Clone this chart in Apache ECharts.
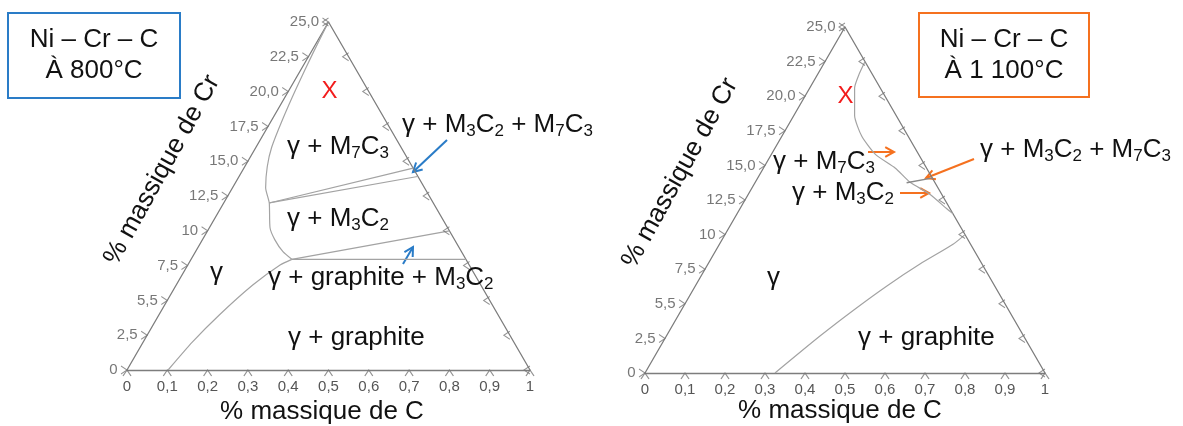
<!DOCTYPE html>
<html><head><meta charset="utf-8">
<script src="https://cdn.jsdelivr.net/npm/echarts@6/dist/echarts.min.js"></script>
<style>html,body{margin:0;padding:0;background:#fff}#c{width:1183px;height:426px}</style>
</head><body><div id="c"></div>
<script>
// ---------- DATA (points are [C wt%, Cr wt%]) ----------
const crMax = 25;
const cTicks = [0, 0.1, 0.2, 0.3, 0.4, 0.5, 0.6, 0.7, 0.8, 0.9, 1];
const crTicks = [0, 2.5, 5, 7.5, 10, 12.5, 15, 17.5, 20, 22.5, 25];
const crTickLabels = ['0', '2,5', '5,5', '7,5', '10', '12,5', '15,0', '17,5', '20,0', '22,5', '25,0'];
const triangle = [[0, 0], [0, 25], [1, 0]];

// 800 °C
const gammaLimit800 = [[0, 25], [0.006, 22.8], [0.015, 20.3], [0.026, 18.0], [0.039, 16.0], [0.056, 14.6], [0.082, 13.1], [0.113, 12.0], [0.151, 10.2], [0.180, 9.35], [0.217, 8.5], [0.25, 7.95]];
const graphiteLimit800 = [[0.25, 7.95], [0.229, 7.54], [0.19, 6.1], [0.15, 3.95], [0.122, 2.0], [0.102, 0]];
const tieM7C3_800 = [[0.113, 12.0], [0.42, 14.5]];
const tieM3C2a_800 = [[0.113, 12.0], [0.443, 13.9]];
const tieM3C2b_800 = [[0.25, 7.95], [0.60, 10.0]];
const tieGraphite_800 = [[0.25, 7.95], [0.682, 7.95]];

// 1 100 °C
const carbideLimit1100 = [[0.10, 22.5], [0.104, 21.5], [0.112, 20.6], [0.126, 19.9], [0.152, 18.6], [0.20, 17.1], [0.26, 15.8], [0.33, 14.8], [0.386, 13.8], [0.455, 12.9], [0.515, 11.9], [0.54, 11.5]];
const tie1100 = [[0.379, 13.75], [0.438, 14.1]];
const graphiteLimit1100 = [[0.325, 0], [0.384, 2.67], [0.43, 4.52], [0.479, 6.29], [0.53, 7.87], [0.584, 9.3], [0.60, 10.0]];

// ---------- helpers ----------
const F = '"Liberation Sans", Arial, sans-serif';
const P = ([c, cr]) => [c + cr / (2 * crMax), cr];  // ternary -> grid coords

const EDGE = '#7d7d7d', BND = '#a3a3a3';
function line(data, g, color, width, smooth) {
  return { type: 'line', xAxisIndex: g, yAxisIndex: g, data: data.map(P), symbol: 'none', showSymbol: false,
    smooth: smooth || 0, silent: true, animation: false, z: 3,
    lineStyle: { color: color, width: width } };
}
const CHEV_UP = 'path://M0,6L4,0L8,6';
const CHEV_R = 'path://M0,0L6,4L0,8';
const CHEV_L = 'path://M6,0L0,4L6,8';
function ticks(points, g, symbol, size, offset, label) {
  const s = { type: 'scatter', xAxisIndex: g, yAxisIndex: g, data: points.map(P), symbol: symbol,
    symbolSize: size, symbolOffset: offset, silent: true, animation: false, z: 4,
    itemStyle: { color: 'rgba(0,0,0,0)', borderColor: '#777', borderWidth: 1 } };
  if (label) s.label = label;
  return s;
}
const leftLabel = { show: true, position: 'left', distance: 3, color: '#555', fontSize: 15, fontFamily: F,
  formatter: p => crTickLabels[p.dataIndex] };

function axes(g) {
  return {
    x: { type: 'value', gridIndex: g, min: 0, max: 1, interval: 0.1,
      axisLine: { show: true, lineStyle: { color: EDGE, width: 1.3 } },
      axisTick: { show: false }, splitLine: { show: false },
      axisLabel: { color: '#555', fontSize: 15, fontFamily: F, margin: 9,
        formatter: v => String(+v.toFixed(1)).replace('.', ',') } },
    y: { type: 'value', gridIndex: g, min: 0, max: crMax, show: false, splitLine: { show: false } }
  };
}
function diagramSeries(g) {
  return [
    line(triangle, g, EDGE, 1.3),
    ticks(cTicks.map(c => [c, 0]), g, CHEV_UP, [8, 6], [0, 3]),
    ticks(crTicks.map(cr => [0, cr]), g, CHEV_R, [6, 8], [-3, 0], leftLabel),
    ticks(crTicks.map(cr => [1 - cr / crMax, cr]), g, CHEV_L, [6, 8], [-3, 0])
  ];
}

const RICH = {
  n: { fontSize: 26, fontFamily: F, fill: '#111', lineHeight: 32 },
  s: { fontSize: 17, fontFamily: F, fill: '#111', lineHeight: 17, padding: [12, 0, 0, 0] }
};
function txt(x, y, text, extra) {
  return Object.assign({ type: 'text', x: x, y: y, z: 100,
    style: Object.assign({ text: text, rich: RICH, fill: '#111', fontSize: 26, fontFamily: F,
      align: 'left', verticalAlign: 'middle' }, extra || {}) });
}
function plain(x, y, text, extra, rot) {
  return { type: 'text', x: x, y: y, z: 100, rotation: rot || 0,
    style: Object.assign({ text: text, fill: '#111', fontSize: 26, fontFamily: F, align: 'center', verticalAlign: 'middle' }, extra || {}) };
}
function arrow(x1, y1, x2, y2, color) {
  const a = Math.atan2(y2 - y1, x2 - x1), L = 10, w = 0.5;
  const p1 = [x2 - L * Math.cos(a - w), y2 - L * Math.sin(a - w)];
  const p2 = [x2 - L * Math.cos(a + w), y2 - L * Math.sin(a + w)];
  return { type: 'group', z: 100, children: [
    { type: 'line', shape: { x1: x1, y1: y1, x2: x2, y2: y2 }, style: { stroke: color, lineWidth: 2 } },
    { type: 'polyline', shape: { points: [p1, [x2, y2], p2] }, style: { stroke: color, lineWidth: 2, fill: null } }
  ] };
}
function box(x, y, w, h, color, l1, l2) {
  return [
    { type: 'rect', z: 99, shape: { x: x, y: y, width: w, height: h }, style: { fill: '#fff', stroke: color, lineWidth: 2 } },
    plain(x + w / 2, y + 27, l1),
    plain(x + w / 2, y + 58, l2)
  ];
}

const BLUE = '#2a7cc7', ORANGE = '#f5711f';
const a0 = axes(0), a1 = axes(1);
const option = {
  backgroundColor: '#fff',
  animation: false,
  grid: [
    { left: 127, top: 22, width: 403, height: 348 },
    { left: 645, top: 27, width: 400, height: 346 }
  ],
  xAxis: [a0.x, a1.x],
  yAxis: [a0.y, a1.y],
  series: [].concat(
    diagramSeries(0),
    [
      line(gammaLimit800, 0, BND, 1.2, 0.2),
      line(graphiteLimit800, 0, BND, 1.2, 0.2),
      line(tieM7C3_800, 0, BND, 1.2),
      line(tieM3C2a_800, 0, BND, 1.2),
      line(tieM3C2b_800, 0, BND, 1.2),
      line(tieGraphite_800, 0, BND, 1.2)
    ],
    diagramSeries(1),
    [
      line(carbideLimit1100, 1, BND, 1.2, 0.2),
      line(tie1100, 1, '#888', 1.4),
      line(graphiteLimit1100, 1, BND, 1.2, 0.25)
    ]
  ),
  graphic: [].concat(
    box(8, 13, 172, 85, BLUE, 'Ni – Cr – C', 'À 800°C'),
    box(919, 13, 170, 84, ORANGE, 'Ni – Cr – C', 'À 1 100°C'),
    [
      // 800 °C
      plain(329.5, 91.5, 'X', { fill: '#f21c1c', fontSize: 24 }),
      txt(287, 147, '{n|γ + M}{s|7}{n|C}{s|3}'),
      txt(402, 125, '{n|γ + M}{s|3}{n|C}{s|2}{n| + M}{s|7}{n|C}{s|3}'),
      txt(287, 219, '{n|γ + M}{s|3}{n|C}{s|2}'),
      txt(210, 273, '{n|γ}'),
      txt(268, 278, '{n|γ + graphite + M}{s|3}{n|C}{s|2}'),
      txt(288, 338, '{n|γ + graphite}'),
      plain(322, 412, '% massique de C'),
      plain(162, 170, '% massique de Cr', {}, 61 * Math.PI / 180),
      arrow(447, 140, 413, 172, BLUE),
      arrow(403, 264, 413, 247, BLUE),
      // 1 100 °C
      plain(845.5, 96.5, 'X', { fill: '#f21c1c', fontSize: 24 }),
      txt(773, 162, '{n|γ + M}{s|7}{n|C}{s|3}'),
      txt(792, 193, '{n|γ + M}{s|3}{n|C}{s|2}'),
      txt(980, 150, '{n|γ + M}{s|3}{n|C}{s|2}{n| + M}{s|7}{n|C}{s|3}'),
      txt(767, 278, '{n|γ}'),
      txt(858, 338, '{n|γ + graphite}'),
      plain(840, 411, '% massique de C'),
      plain(680, 173, '% massique de Cr', {}, 61 * Math.PI / 180),
      arrow(868, 152, 894, 152, ORANGE),
      arrow(900, 193, 929, 193, ORANGE),
      arrow(974, 159, 926, 178, ORANGE)
    ]
  )
};
const chart = echarts.init(document.getElementById('c'), null, { renderer: 'canvas' });
chart.setOption(option);
</script></body></html>
